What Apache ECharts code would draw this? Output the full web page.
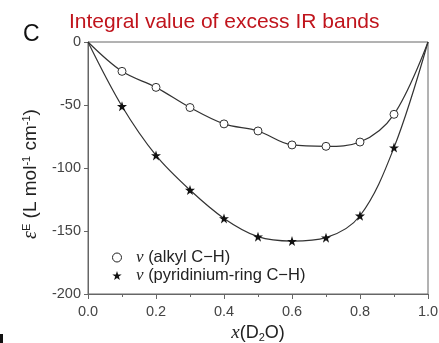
<!DOCTYPE html>
<html><head><meta charset="utf-8">
<script src="https://cdn.jsdelivr.net/npm/echarts@6/dist/echarts.min.js"></script>
<style>html,body{margin:0;padding:0;background:#fff}#c{width:439px;height:343px}</style>
</head><body><div id="c"></div>
<script>
const xValues = [0.0, 0.1, 0.2, 0.3, 0.4, 0.5, 0.6, 0.7, 0.8, 0.9, 1.0];
const alkyl = [0, -23.3, -36, -52, -65, -70.6, -81.7, -82.8, -79.4, -57.4, 0];
const pyridinium = [0, -51, -90, -117.5, -140, -154.5, -158, -155.3, -137.9, -83.8, 0];
const yTicks = [0, -50, -100, -150, -200];
const xTicks = [0.0, 0.2, 0.4, 0.6, 0.8, 1.0];

const starPath = 'path://M50,0 L61.8,35.1 L98.1,35.1 L68.8,56.8 L79.4,91.9 L50,70.5 L20.6,91.9 L31.2,56.8 L1.9,35.1 L38.2,35.1 Z';
const fontFam = 'Liberation Sans, Arial, sans-serif';

const chart = echarts.init(document.getElementById('c'), null, {renderer: 'canvas'});
function pairs(ys) {
  return xValues.map((x, i) => {
    const edge = (i === 0 || i === xValues.length - 1);
    return edge ? {value: [x, ys[i]], symbol: 'none'} : [x, ys[i]];
  });
}
chart.setOption({
  animation: false,
  backgroundColor: '#fff',
  grid: {left: 88, right: 11, top: 42, bottom: 49, containLabel: false, outerBoundsMode: 'none',
         show: true, borderColor: '#666', borderWidth: 1, backgroundColor: 'transparent'},
  title: [
    {text: 'C', left: 18, top: 18, textStyle: {fontFamily: fontFam, fontSize: 23, fontWeight: 'normal', color: '#111'}},
    {text: 'Integral value of excess IR bands', left: 64, top: 7, textStyle: {fontFamily: fontFam, fontSize: 21, fontWeight: 'normal', color: '#c0141c'}}
  ],
  legend: {
    orient: 'vertical', left: 107, top: 244, itemGap: 1, itemWidth: 12, itemHeight: 9,
    data: [
      {name: 'alkyl', icon: 'circle', itemStyle: {color: '#fff', borderColor: '#222', borderWidth: 1}},
      {name: 'pyr', icon: starPath, itemStyle: {color: '#111'}}
    ],
    formatter: n => n === 'alkyl' ? '{i|ν} (alkyl C−H)' : '{i|ν} (pyridinium-ring C−H)',
    textStyle: {fontFamily: fontFam, fontSize: 16.5, color: '#222', padding: [0,0,0,8],
      rich: {i: {fontFamily: 'Liberation Serif, serif', fontStyle: 'italic', fontSize: 17, color: '#222'}}}
  },
  xAxis: {
    type: 'value', min: 0, max: 1, interval: 0.2,
    name: '{i|x}(D{s|2}O)', nameLocation: 'middle', nameGap: 29,
    nameTextStyle: {fontFamily: fontFam, fontSize: 18, color: '#222',
      rich: {i: {fontFamily: 'Liberation Serif, serif', fontStyle: 'italic', fontSize: 19, color: '#222'},
             s: {fontSize: 11, verticalAlign: 'bottom', padding: [9,0,0,0], color: '#222'}}},
    axisLine: {onZero: false, lineStyle: {color: '#666', width: 1}},
    axisTick: {show: true, inside: false, length: 5, lineStyle: {color: '#666'}},
    minorTick: {show: true, splitNumber: 2, length: 3, lineStyle: {color: '#666'}},
    splitLine: {show: false},
    axisLabel: {fontFamily: fontFam, fontSize: 14.5, color: '#444', margin: 10,
      formatter: v => v.toFixed(1)}
  },
  yAxis: {
    type: 'value', min: -200, max: 0, interval: 50,
    name: '{i|ε}{s|E} (L mol{s|-1} cm{s|-1})', nameLocation: 'middle', nameGap: 36, nameRotate: 90,
    nameTextStyle: {fontFamily: fontFam, fontSize: 19, color: '#222', padding: [0, 12, 0, 0],
      rich: {i: {fontFamily: 'Liberation Serif, serif', fontStyle: 'italic', fontSize: 20, color: '#222'},
             s: {fontSize: 11, verticalAlign: 'top', padding: [0,0,9,0], color: '#222'}}},
    axisLine: {onZero: false, lineStyle: {color: '#666', width: 1}},
    axisTick: {show: true, inside: false, length: 4, lineStyle: {color: '#666'}},
    splitLine: {show: false},
    axisLabel: {fontFamily: fontFam, fontSize: 14.5, color: '#444', margin: 7}
  },
  series: [
    {name: 'alkyl', type: 'line', data: pairs(alkyl), smooth: 0.35,
     lineStyle: {color: '#333', width: 1.2}, symbol: 'circle', symbolSize: 8,
     itemStyle: {color: '#fff', borderColor: '#333', borderWidth: 1},
     showAllSymbol: true, z: 3},
    {name: 'pyr', type: 'line', data: pairs(pyridinium), smooth: 0.35,
     lineStyle: {color: '#333', width: 1.2}, symbol: starPath, symbolSize: 10,
     itemStyle: {color: '#111'}, showAllSymbol: true, z: 3}
  ],
  graphic: [{type: 'rect', shape: {x: 0, y: 334, width: 3, height: 9}, style: {fill: '#111'}}]
});
</script></body></html>
